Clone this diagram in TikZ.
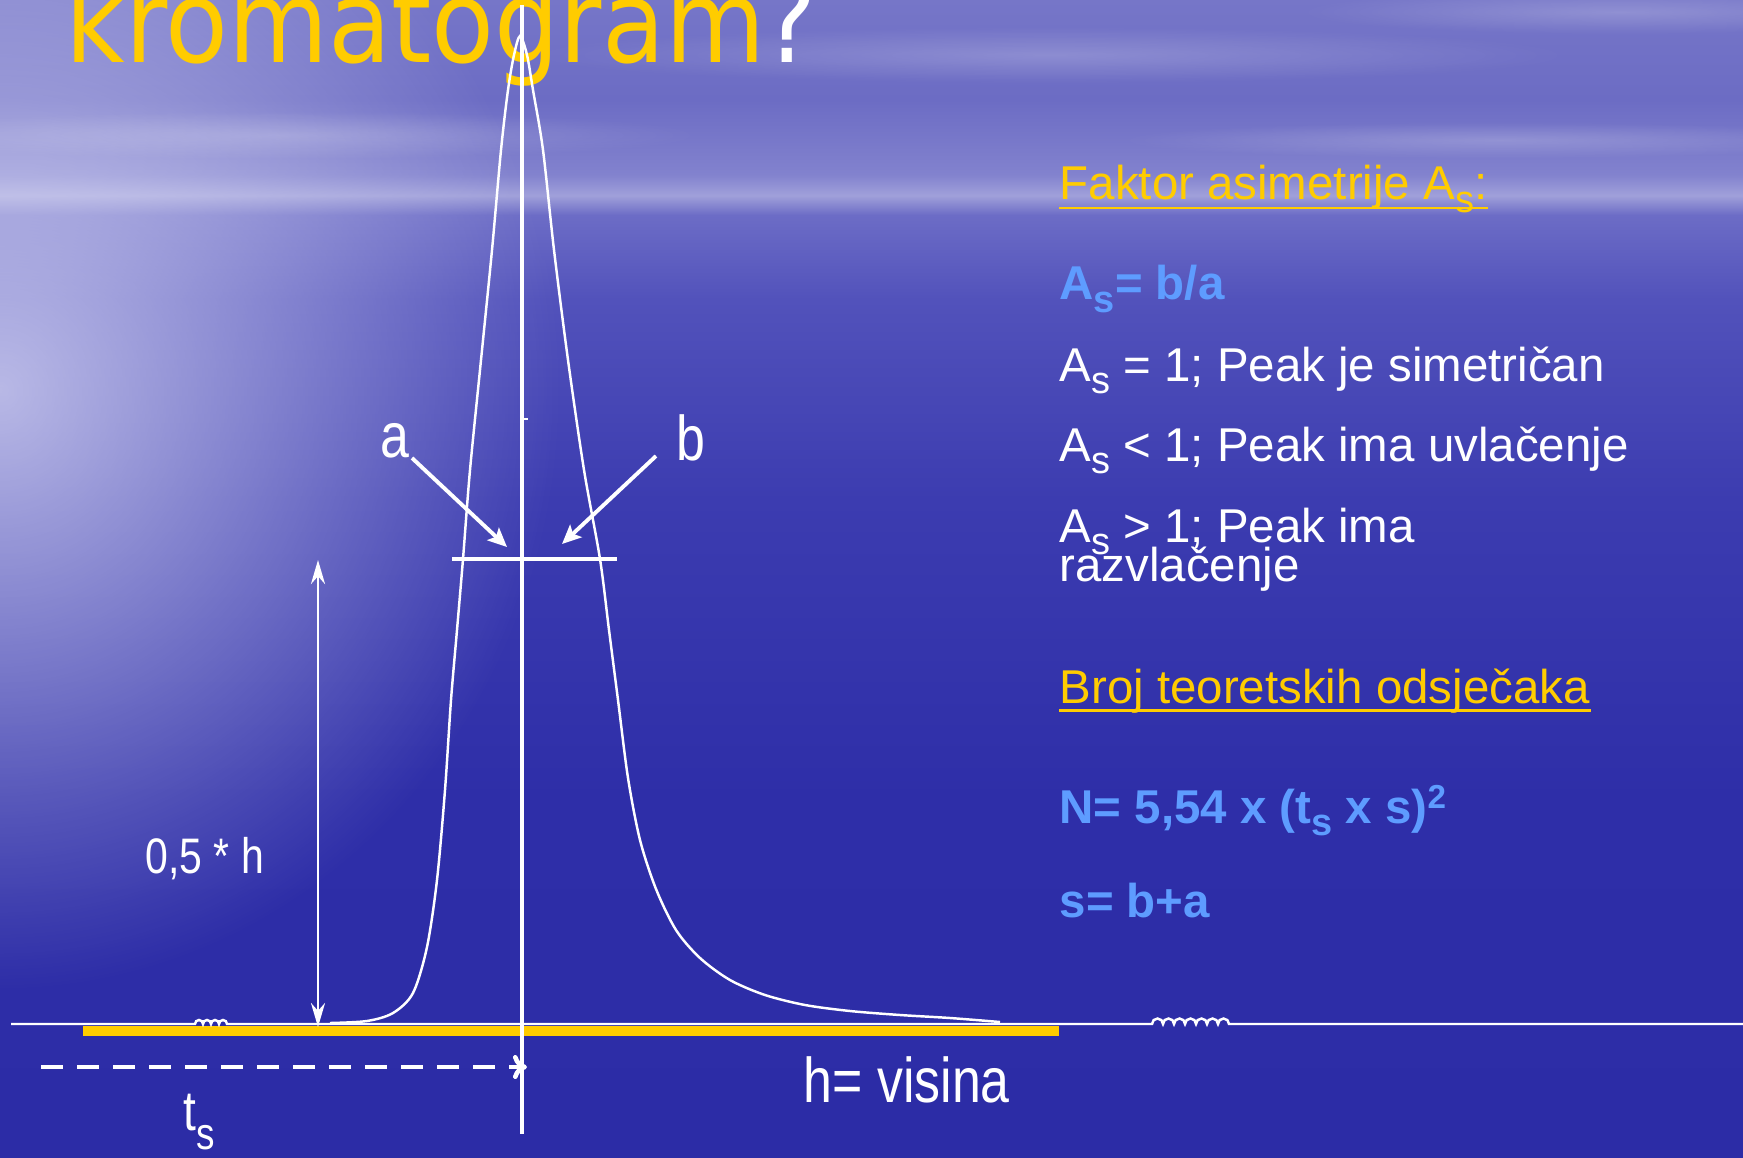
\documentclass[tikz,border=0pt]{standalone}
\usepackage{fontspec}
\setmainfont{Liberation Sans}
\newfontfamily\titlefont[FakeStretch=0.9]{DejaVu Sans}
\newfontfamily\narrowfont[FakeStretch=0.82]{Liberation Sans}
\usetikzlibrary{arrows.meta,fadings}

\definecolor{slideyellow}{RGB}{255,204,0}
\definecolor{formblue}{RGB}{94,156,255}
\definecolor{seaA}{RGB}{44,44,166}
\definecolor{seaB}{RGB}{46,46,168}
\definecolor{seaC}{RGB}{60,60,176}
\definecolor{seaD}{RGB}{82,82,187}
\definecolor{seaE}{RGB}{108,108,198}
\definecolor{horizon}{RGB}{160,160,218}
\definecolor{skyA}{RGB}{130,130,206}
\definecolor{skyB}{RGB}{108,108,196}
\definecolor{skyC}{RGB}{118,118,200}
\definecolor{glow}{RGB}{222,222,246}

\pgfdeclareverticalshading{seasky}{100bp}{color(0bp)=(seaA); color(25bp)=(seaA);
  color(40.45bp)=(seaB); color(53.4bp)=(seaC); color(62.05bp)=(seaD); color(65.7bp)=(seaE);
  color(66.55bp)=(horizon); color(67.45bp)=(skyA); color(70.7bp)=(skyB); color(75bp)=(skyC);
  color(100bp)=(skyC)}
\tikzfading[name=glowfade, inner color=transparent!25, outer color=transparent!100]
\tikzfading[name=streakfade, inner color=transparent!80, outer color=transparent!100]

\newcommand{\idx}[1]{\raisebox{-0.27em}{\scalebox{0.8}{#1}}}
\newcommand{\pow}[1]{\raisebox{0.3em}{\scalebox{0.7}{#1}}}

\begin{document}
\begin{tikzpicture}[x=0.1mm, y=-0.1mm,
  txt/.style={inner sep=0pt, anchor=base west, text=white},
  head/.style={txt, text=slideyellow, font=\fontsize{13.5pt}{16pt}\selectfont},
  rule/.style={txt, font=\fontsize{13.5pt}{16pt}\selectfont},
  formula/.style={txt, text=formblue, font=\fontsize{13.5pt}{16pt}\selectfont\bfseries},
  lbl/.style={txt, font=\narrowfont\fontsize{18pt}{20pt}\selectfont},
  peak/.style={draw=white, line width=0.7pt},
  pointer/.style={-{Stealth[length=1.9mm, width=1.7mm, inset=0.4mm]}, draw=white, line width=1.1pt},
  span/.style={{Stealth[length=2.4mm, width=1.4mm]}-{Stealth[length=2.4mm, width=1.4mm]}, draw=white, line width=0.8pt},
  retention/.style={-{To[length=1.4mm, width=2.4mm]}, draw=white, line width=1.3pt, dash pattern=on 2.2mm off 1.4mm},
  underbar/.style={draw=slideyellow, line width=0.85pt},
  streak/.style={fill=white, path fading=streakfade}
]
  \useasboundingbox (0,0) rectangle (1743,1157);
  \clip (0,0) rectangle (1743,1157);
  \shade[shading=seasky] (0,0) rectangle (1743,1157);
  \fill[glow, path fading=glowfade] (0,390) ellipse [x radius=560, y radius=600];
  \fill[streak] (1050,55) ellipse [x radius=520, y radius=28];
  \fill[streak] (1620,12) ellipse [x radius=320, y radius=22];
  \fill[streak] (280,135) ellipse [x radius=420, y radius=24];
  \fill[streak] (1500,140) ellipse [x radius=380, y radius=18];

  \node[txt, text=slideyellow, font=\titlefont\fontsize{32.5pt}{36pt}\selectfont] (title) at (65,63) {kromatogram\hspace{-0.3mm}\textcolor{white}{?}};

  \fill[slideyellow] (83,1026) rectangle (1059,1036);
  \draw[white, line width=0.7pt] (11,1024) -- (195,1024)
    \foreach \k in {1,...,4} { arc[start angle=180, end angle=360, radius=4] }
    -- (1152,1024)
    \foreach \k in {1,...,7} { arc[start angle=180, end angle=360, radius=5.5] }
    -- (1743,1024);

  \draw[peak] plot[smooth, tension=0.5] coordinates {
    (330,1023) (367,1021) (393,1013) (413,993) (427,947) (437,880) (445,790) (451,700)
    (457,630) (463,559) (470,470) (481,360) (492,250) (501,150) (508,90) (514,55) (520,36)
    (527,55) (533,90) (543,150) (554,250) (568,360) (584,470) (600,559) (609,630) (618,700)
    (628,778) (640,840) (656,889) (676,930) (700,958) (730,980) (765,995) (805,1005)
    (850,1011) (900,1015) (950,1018) (1000,1022)};

  \coordinate (top) at (522,5);
  \coordinate (foot) at (522,1134);
  \draw[white, line width=1.4pt] (top) -- (foot);
  \draw[white, line width=0.4pt] (522,419) -- (528,419);

  \coordinate (hL) at (452,559);
  \coordinate (hR) at (617,559);
  \draw[white, line width=1.4pt] (hL) -- (hR);

  \node[lbl] (lblA) at (380,457) {a};
  \node[lbl] (lblB) at (676,460) {b};
  \coordinate (aTail) at (412,458);
  \coordinate (aTip) at (507,547);
  \coordinate (bTail) at (656,456);
  \coordinate (bTip) at (562,544);
  \draw[pointer] (aTail) -- (aTip);
  \draw[pointer] (bTail) -- (bTip);

  \coordinate (hTop) at (318,560);
  \coordinate (hBot) at (318,1027);
  \draw[span] (hBot) -- (hTop);
  \node[lbl, font=\narrowfont\fontsize{14.2pt}{16pt}\selectfont] (halfH) at (145,873) {0,5 * h};

  \coordinate (tsStart) at (41,1067);
  \coordinate (tsEnd) at (527,1067);
  \draw[retention] (tsStart) -- (tsEnd);
  \node[lbl, font=\narrowfont\fontsize{16pt}{18pt}\selectfont] (tsLbl) at (183,1130) {t\raisebox{-0.35em}{\scalebox{0.8}{s}}};
  \node[lbl] (visina) at (803,1102) {h= visina};

  \node[head] (faktor) at (1059,200) {Faktor asimetrije A\idx{s}:};
  \draw[underbar] ([yshift=-0.8mm]faktor.base west) -- ([yshift=-0.8mm]faktor.base east);
  \node[formula] (asDef) at (1059,300) {A\idx{s}= b/a};
  \node[rule] (asEq) at (1059,381) {A\idx{s} = 1; Peak je simetričan};
  \node[rule] (asLt) at (1059,461) {A\idx{s} < 1; Peak ima uvlačenje};
  \node[rule] (asGt) at (1059,542) {A\idx{s} > 1; Peak ima};
  \node[rule] (asGtCont) at (1059,581) {razvlačenje};

  \node[head] (broj) at (1059,703) {Broj teoretskih odsječaka};
  \draw[underbar] ([yshift=-0.7mm]broj.base west) -- ([yshift=-0.7mm]broj.base east);
  \node[formula] (plates) at (1059,823) {N= 5,54 x (t\idx{s} x s)\pow{2}};
  \node[formula] (sumAB) at (1059,917) {s= b+a};
\end{tikzpicture}
\end{document}
